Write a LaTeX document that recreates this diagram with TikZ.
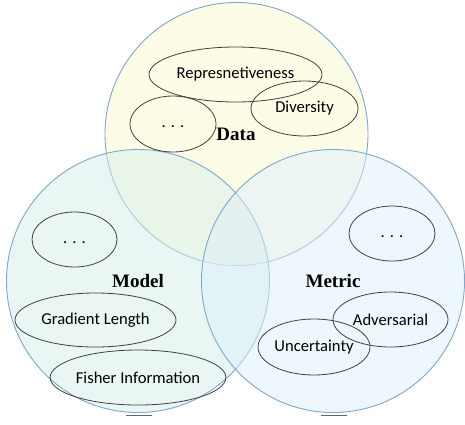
\documentclass[tikz,border=0pt]{standalone}
\usepackage{fontspec}
\setmainfont{Liberation Serif}
\newfontfamily\ovalfont{Carlito}
\usetikzlibrary{shapes.geometric}

\definecolor{ringline}{HTML}{7FA6CC}
\definecolor{datafill}{HTML}{FAFAD0}
\definecolor{modelfill}{HTML}{D6EEE8}
\definecolor{metricfill}{HTML}{DDEFFA}

\begin{document}
\begin{tikzpicture}[x=1pt,y=-1pt,
set/.style={circle,draw=ringline,line width=0.9pt,fill opacity=0.5,minimum size=263pt,inner sep=0pt},
oval/.style={ellipse,draw=black!75,line width=0.8pt,inner sep=0pt,font=\ovalfont\fontsize{16.6}{18}\selectfont},
setname/.style={font=\bfseries\fontsize{19}{22}\selectfont},
shade/.style={black!60,line width=1.3pt}]
\useasboundingbox (0,0) rectangle (465,424);

% the three sets
\node[set,fill=datafill]   (data)   at (236.5,134) {};
\node[set,fill=modelfill]  (model)  at (138,281)   {};
\node[set,fill=metricfill] (metric) at (333,281)   {};

\node[setname] (datalbl)   at (236,134) {Data};
\node[setname] (modellbl)  at (138,281) {Model};
\node[setname] (metriclbl) at (333,281) {Metric};

% data
\node[oval,minimum width=173pt,minimum height=55pt] (rep)   at (235.5,74.5) {Represnetiveness};
\node[oval,minimum width=107pt,minimum height=55pt] (div)   at (304.5,108.5) {Diversity};
\node[oval,minimum width=86pt,minimum height=56pt]  (ddots) at (173,124) {\vphantom{x}. . .};

% model
\node[oval,minimum width=85pt,minimum height=55pt]  (mdots) at (74.5,239.5) {\vphantom{x}. . .};
\node[oval,minimum width=161pt,minimum height=54pt] (grad)  at (95.5,320) {Gradient Length};
\node[oval,minimum width=162pt,minimum height=55pt] (fish)  at (138,377.5) {Fisher Information};

% metric
\node[oval,minimum width=86pt,minimum height=55pt]  (xdots) at (392,233.5) {\vphantom{x}. . .};
\node[oval,minimum width=115pt,minimum height=55pt] (adv)   at (390.5,319.5) {Adversarial};
\node[oval,minimum width=108pt,minimum height=56pt] (unc)   at (314,347) {Uncertainty};

\draw[shade] (126,415.5) -- (152,415.5);
\draw[shade] (321,415.5) -- (347,415.5);

\end{tikzpicture}
\end{document}
